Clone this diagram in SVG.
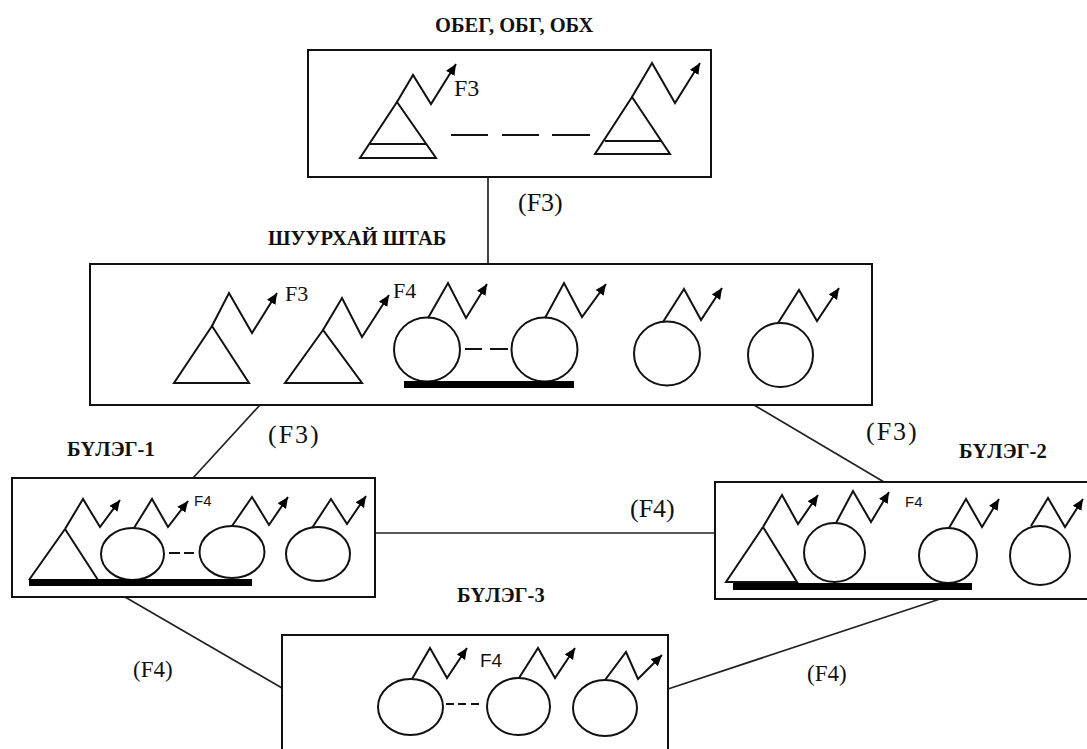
<svg xmlns="http://www.w3.org/2000/svg" width="1087" height="749" viewBox="0 0 1087 749">
<style>
.b{fill:#fff;stroke:#111;stroke-width:2}
.s{fill:none;stroke:#111;stroke-width:2}
.z{fill:none;stroke:#111;stroke-width:2;marker-end:url(#a)}
.c{fill:none;stroke:#222;stroke-width:1.7}
.t{font-family:"Liberation Serif",serif;fill:#111}
.h{font-size:20.5px;font-weight:bold}
.l{font-size:26px}
.m{font-size:23px}
.n{font-family:"Liberation Sans",sans-serif;font-size:15px;fill:#111}
.bar{fill:#000}
</style>
<defs>
<marker id="a" markerUnits="userSpaceOnUse" markerWidth="14" markerHeight="14" refX="11" refY="5" orient="auto">
<path d="M0 0L11 5L0 10Z" fill="#000"/>
</marker>
</defs>
<rect width="1087" height="749" fill="#fff"/>
<g id="connectors">
<path class="c" d="M488 178V264"/>
<path class="c" d="M260 405L193 478"/>
<path class="c" d="M754 405L884 482"/>
<path class="c" d="M375 533H715"/>
<path class="c" d="M125 597L282 688"/>
<path class="c" d="M940 599L668 689"/>
</g>
<g id="node-top">
<rect class="b" x="308" y="50" width="403" height="127"/>
<path class="s" d="M397 102L360 158H436ZM370 144H426M451 135H488M502 135H539M552 135H590"/>
<path class="z" d="M397 102L413 75L431 104L456 64"/>
<path class="s" d="M632 97L595 154H670ZM605 141H661"/>
<path class="z" d="M632 97L652 63L675 103L700 63"/>
<text class="t" x="454" y="96" font-size="24">F3</text>
</g>
<g id="node-hq">
<rect class="b" x="90" y="264" width="782" height="141"/>
<path class="s" d="M212 326L174 383H249Z"/>
<path class="z" d="M212 326L229 293L252 333L277 293"/>
<text class="t" x="285" y="301" font-size="22">F3</text>
<path class="s" d="M323 330L285 383H362Z"/>
<path class="z" d="M323 330L342 298L362 337L389 295"/>
<text class="t" x="393" y="298" font-size="22">F4</text>
<ellipse class="s" cx="427" cy="349.500" rx="33" ry="32"/>
<ellipse class="s" cx="544.500" cy="349.500" rx="33" ry="32"/>
<path class="s" d="M465 349H482M490 349H508"/>
<rect class="bar" x="404" y="381" width="170" height="7"/>
<path class="z" d="M428 318L448 283L466 318L487 284"/>
<path class="z" d="M545 318L564 283L582 317L606 284"/>
<ellipse class="s" cx="667" cy="353.500" rx="33" ry="32"/>
<path class="z" d="M663 322L684 289L701 320L722 288"/>
<ellipse class="s" cx="780.500" cy="355" rx="32.500" ry="32"/>
<path class="z" d="M778 323L799 290L817 321L839 288"/>
</g>
<g id="node-b1">
<rect class="b" x="12" y="478" width="363" height="119"/>
<path class="s" d="M65 529L29 580M65 529L98 580"/>
<path class="z" d="M65 529L83 499L100 527L120 500"/>
<ellipse class="s" cx="132.500" cy="554" rx="31.500" ry="26"/>
<path class="z" d="M134 528L152 499L168 527L188 501"/>
<text class="n" x="194" y="506">F4</text>
<ellipse class="s" cx="232" cy="552" rx="32.500" ry="26"/>
<path class="z" d="M232 526L252 497L269 525L288 497"/>
<ellipse class="s" cx="318" cy="554" rx="32" ry="27"/>
<path class="z" d="M312 528L331 499L347 524L366 496"/>
<path class="s" d="M169 553H180M184 553H194"/>
<rect class="bar" x="29" y="579" width="223" height="7"/>
</g>
<g id="node-b2">
<rect class="b" x="715" y="482" width="376" height="117"/>
<path class="s" d="M763 527L726 582H797L763 527"/>
<path class="z" d="M763 527L782 495L798 524L818 495"/>
<ellipse class="s" cx="834.500" cy="552.500" rx="30.500" ry="29.500"/>
<path class="z" d="M836 523L853 491L871 522L889 492"/>
<text class="n" x="905" y="507">F4</text>
<ellipse class="s" cx="948" cy="555.500" rx="29" ry="27.500"/>
<path class="z" d="M949 528L966 499L982 527L999 499"/>
<ellipse class="s" cx="1040" cy="555.500" rx="30" ry="29.500"/>
<path class="z" d="M1031 526L1048 498L1065 527L1083 499"/>
<rect class="bar" x="733" y="583" width="239" height="7"/>
</g>
<g id="node-b3">
<path class="b" d="M282 749V635H668V749"/>
<ellipse class="s" cx="410.500" cy="707" rx="32.500" ry="28"/>
<path class="z" d="M412 679L430 648L447 678L467 648"/>
<text class="n" x="480" y="667" style="font-size:19px">F4</text>
<ellipse class="s" cx="518.500" cy="706.500" rx="31.500" ry="28.500"/>
<path class="z" d="M519 678L538 648L555 678L575 648"/>
<ellipse class="s" cx="605" cy="708" rx="32" ry="28"/>
<path class="z" d="M605 680L626 652L638 679L662 655"/>
<path class="s" d="M446 704H454M458 704H466M471 704H479"/>
</g>
<g id="labels">
<text class="t h" x="435" y="32">ОБЕГ, ОБГ, ОБХ</text>
<text class="t h" x="268" y="245">ШУУРХАЙ ШТАБ</text>
<text class="t h" x="67" y="456">БҮЛЭГ-1</text>
<text class="t h" x="959" y="458">БҮЛЭГ-2</text>
<text class="t h" x="457" y="602">БҮЛЭГ-3</text>
<text class="t l" x="518" y="211">(F3)</text>
<text class="t l" x="268" y="443" letter-spacing="2">(F3)</text>
<text class="t l" x="866" y="440" letter-spacing="2">(F3)</text>
<text class="t l" x="630" y="517">(F4)</text>
<text class="t m" x="133" y="677">(F4)</text>
<text class="t m" x="807" y="681">(F4)</text>
</g>
</svg>
